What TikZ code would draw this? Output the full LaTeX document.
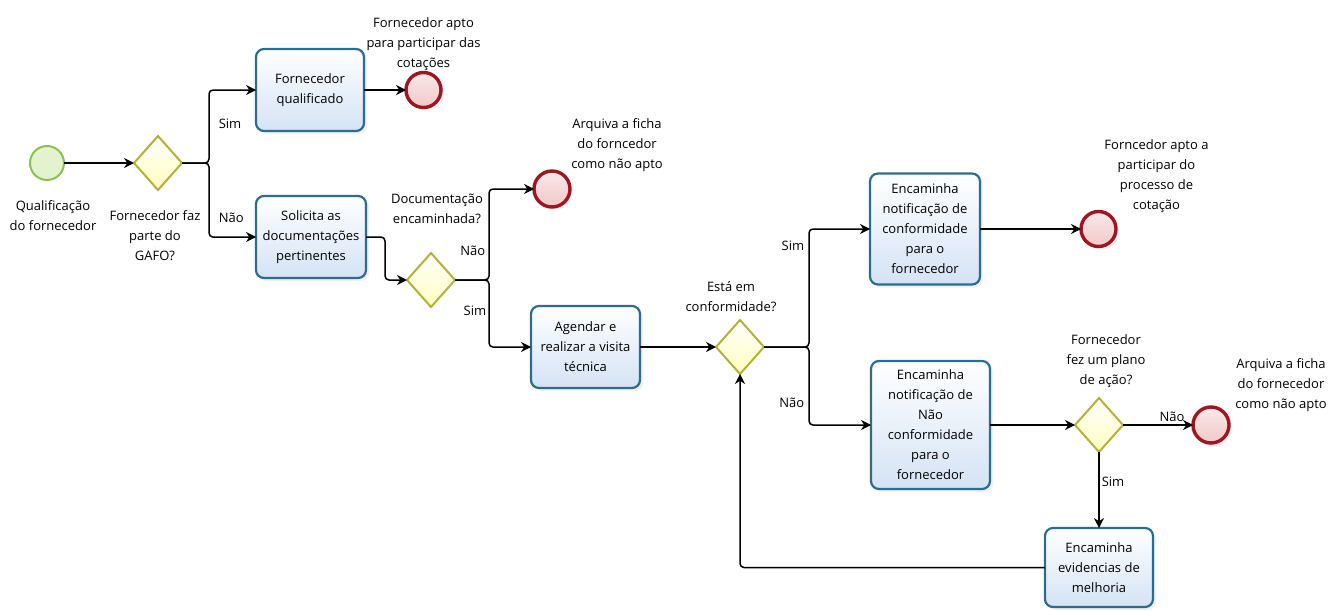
\documentclass[tikz,border=0pt]{standalone}
\usepackage{fontspec}
\setmainfont{Open Sans}
\usetikzlibrary{arrows.meta,positioning,shapes.geometric,shadows}
\definecolor{taskline}{RGB}{46,108,140}
\definecolor{taskfill}{RGB}{212,227,244}
\definecolor{gateline}{RGB}{178,178,58}
\definecolor{gatefill}{RGB}{255,255,190}
\definecolor{startline}{RGB}{140,192,82}
\definecolor{startfill}{RGB}{226,243,206}
\definecolor{endline}{RGB}{158,22,34}
\definecolor{endfill}{RGB}{242,200,200}
\tikzstyle{task}=[
	rectangle,
	rounded corners=8pt,
	line width=2.2pt,
	draw=taskline,
	top color=white,
	bottom color=taskfill,
	drop shadow={opacity=0.12,shadow xshift=3pt,shadow yshift=-3pt},
	align=center,
	inner sep=2pt,
	outer sep=0pt,
	minimum width=108pt,
	minimum height=82pt
]
\tikzstyle{gateway}=[
	diamond,
	line width=2pt,
	draw=gateline,
	top color=white,
	bottom color=gatefill,
	inner sep=0pt,
	outer sep=0pt,
	minimum width=48pt,
	minimum height=54pt
]
\tikzstyle{startevent}=[
	circle,
	line width=2pt,
	draw=startline,
	fill=startfill,
	inner sep=0pt,
	outer sep=0pt,
	minimum size=34pt
]
\tikzstyle{endevent}=[
	circle,
	line width=3.4pt,
	draw=endline,
	top color=endfill!40,
	bottom color=endfill,
	drop shadow={opacity=0.12,shadow xshift=3pt,shadow yshift=-3pt},
	inner sep=0pt,
	outer sep=0pt,
	minimum size=35pt
]
\tikzstyle{flow}=[
	->,
	>={Stealth[length=10pt,width=10pt]},
	line width=1.5pt,
	rounded corners=4pt
]
\tikzstyle{caption}=[align=center, inner sep=0pt]
\tikzstyle{guard}=[inner sep=1pt]

\begin{document}
\begin{tikzpicture}[x=1pt,y=1pt,font=\fontsize{13}{20}\selectfont]
\useasboundingbox (0,0) rectangle (1343,-610);

\node [startevent] (Start) at (47,-163) {};
\node [gateway] (GAFO) [right=70pt of Start] {};
\node [task] (Qualificado) [above right=32pt and 74pt of GAFO.east] {Fornecedor\\qualificado};
\node [task] (Solicita) [below right=33pt and 74pt of GAFO.east, minimum width=110pt] {Solicita as\\documentações\\pertinentes};
\node [endevent] (AptoCotacoes) [right=42pt of Qualificado] {};
\node [gateway] (Documentacao) [right=41pt of Solicita, yshift=-43pt] {};
\node [endevent] (NaoApto) [right=79pt of Documentacao, yshift=91pt, minimum size=36pt] {};
\node [task] (Visita) [right=76pt of Documentacao, yshift=-67pt, minimum width=109pt] {Agendar e\\realizar a visita\\técnica};
\node [gateway] (Conformidade) [right=76pt of Visita] {};
\node [task] (NotConf) [right=106pt of Conformidade, yshift=118pt, minimum width=110pt, minimum height=111pt] {Encaminha\\notificação de\\conformidade\\para o\\fornecedor};
\node [task] (NotNaoConf) [right=107pt of Conformidade, yshift=-78pt, minimum width=119pt, minimum height=128pt] {Encaminha\\notificação de\\Não\\conformidade\\para o\\fornecedor};
\node [endevent] (AptoProcesso) [right=101pt of NotConf] {};
\node [gateway] (Plano) [right=85pt of NotNaoConf] {};
\node [endevent] (Arquiva) [right=70pt of Plano, minimum size=36pt] {};
\node [task] (Evidencias) [below=76pt of Plano, minimum height=79pt] {Encaminha\\evidencias de\\melhoria};

% captions of events and gateways
\node [caption] (StartCap) [below=20pt of Start, xshift=6pt] {Qualificação\\do fornecedor};
\node [caption] (GAFOCap) [below=20pt of GAFO, xshift=-3pt] {Fornecedor faz\\parte do\\GAFO?};
\node [caption] (AptoCotacoesCap) [above=2pt of AptoCotacoes] {Fornecedor apto\\para participar das\\cotações};
\node [caption] (DocumentacaoCap) [above=29pt of Documentacao, xshift=6pt] {Documentação\\encaminhada?};
\node [caption] (NaoAptoCap) [above=-1pt of NaoApto, xshift=65pt] {Arquiva a ficha\\do forncedor\\como não apto};
\node [caption] (ConformidadeCap) [above=8pt of Conformidade, xshift=-9pt] {Está em\\conformidade?};
\node [caption] (AptoProcessoCap) [above=-1pt of AptoProcesso, xshift=58pt] {Forncedor apto a\\participar do\\processo de\\cotação};
\node [caption] (PlanoCap) [above=10pt of Plano, xshift=7pt] {Fornecedor\\fez um plano\\de ação?};
\node [caption] (ArquivaCap) [above=-5pt of Arquiva, xshift=70pt] {Arquiva a ficha\\do fornecedor\\como não apto};

% sequence flows
\draw [flow] (Start) -- (GAFO);
\draw [flow] (GAFO.east) -- ++(27pt,0) |- node [guard, pos=0.27, right=8pt] {Sim} (Qualificado);
\draw [flow] (GAFO.east) -- ++(27pt,0) |- node [guard, pos=0.37, right=8pt] {Não} (Solicita);
\draw [flow] (Qualificado) -- (AptoCotacoes);
\draw [flow] (Solicita.east) -- ++(19pt,0) |- (Documentacao);
\draw [flow] (Documentacao.east) -- ++(34pt,0) |- node [guard, pos=0.16, left=2pt] {Não} (NaoApto);
\draw [flow] (Documentacao.east) -- ++(34pt,0) |- node [guard, pos=0.23, left=1pt] {Sim} (Visita);
\draw [flow] (Visita) -- (Conformidade);
\draw [flow] (Conformidade.east) -- ++(45pt,0) |- node [guard, pos=0.43, left=3pt] {Sim} (NotConf);
\draw [flow] (Conformidade.east) -- ++(45pt,0) |- node [guard, pos=0.36, left=3pt] {Não} (NotNaoConf);
\draw [flow] (NotConf) -- (AptoProcesso);
\draw [flow] (NotNaoConf) -- (Plano);
\draw [flow] (Plano) -- node [guard, pos=0.7, above=2pt] {Não} (Arquiva);
\draw [flow] (Plano) -- node [guard, pos=0.39, right=1pt] {Sim} (Evidencias);
\draw [flow] (Evidencias.west) -| (Conformidade.south);
\end{tikzpicture}
\end{document}
